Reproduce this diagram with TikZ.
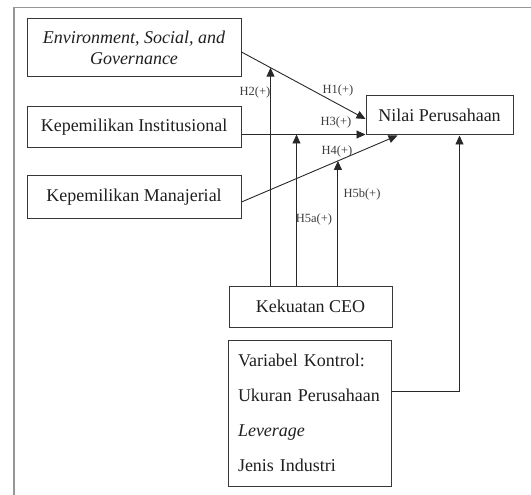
\documentclass[tikz,border=0pt]{standalone}
\usepackage{fontspec}
\setmainfont{Liberation Serif}
\usetikzlibrary{arrows.meta,positioning,calc}
\definecolor{boxgray}{RGB}{55,55,55}
\definecolor{linegray}{RGB}{40,40,40}
\definecolor{framegray}{RGB}{150,150,150}
\definecolor{labgray}{RGB}{60,60,60}

\begin{document}
\begin{tikzpicture}[x=1pt, y=-1pt,
  vbox/.style={rectangle, draw=boxgray, line width=1pt, inner sep=2pt,
               font=\fontsize{18}{21}\selectfont, align=center, text=black!88},
  arr/.style={-{Triangle[length=9pt,width=8pt]}, draw=linegray, line width=0.9pt},
  hlab/.style={font=\fontsize{12.5}{14}\selectfont, text=labgray}
]
\useasboundingbox (0,0) rectangle (531,495);
% Frame
\draw[framegray, line width=1.3pt] (531,7.5) -- (14,7.5) -- (14,495);

% Variable nodes
\node[vbox, minimum width=214pt, minimum height=58pt] (esg) at (134,48)
  {\textit{Environment, Social, and}\\\textit{Governance}};
\node[vbox, minimum width=214pt, minimum height=41pt] (inst) at (134,127.5)
  {Kepemilikan Institusional};
\node[vbox, minimum width=214pt, minimum height=42pt] (mnj) at (134,197)
  {Kepemilikan Manajerial};
\node[vbox, minimum width=147pt, minimum height=39pt] (nilai) at (439.5,115.5)
  {Nilai Perusahaan};
\node[vbox, minimum width=163pt, minimum height=41pt] (ceo) at (310.5,306.5)
  {Kekuatan CEO};
\node[vbox, minimum width=163pt, minimum height=146pt, text width=143pt,
      align=left, font=\fontsize{18}{35}\selectfont] (ktrl) at (309.5,413)
  {Variabel Kontrol:\\Ukuran Perusahaan\\\textit{Leverage}\\Jenis Industri};

% Direct effects
\coordinate (h1s) at ($(esg.east)+(0,4)$);
\coordinate (h1e) at ($(nilai.west)+(0,3.5)$);
\coordinate (h3e) at ($(nilai.south west)+(0,-1)$);
\coordinate (h4s) at ($(mnj.east)+(0,5)$);
\coordinate (h4e) at ($(nilai.south west)+(32,0)$);
\draw[arr] (h1s) -- (h1e);
\draw[arr] (inst.east |- h3e) -- (h3e);
\draw[arr] (h4s) -- (h4e);

% Moderation by CEO power
\coordinate (m2) at ($(h1s)!0.234!(h1e)$);
\coordinate (m5a) at ($(ceo.north west)+(68,0)$);
\coordinate (m5b) at ($(h4s)!0.618!(h4e)$);
\draw[arr] (ceo.north -| m2) -- (m2);
\draw[arr] (m5a) -- (m5a |- h3e);
\draw[arr] (ceo.north -| m5b) -- (m5b);

% Control variables
\coordinate (kt) at ($(ktrl.east)+(0,-22)$);
\draw[arr] (kt) -| ($(nilai.south west)+(94,0)$);

% Labels
\node[hlab] (lh2) at (255,92) {H2(+)};
\node[hlab] (lh1) at (338,90) {H1(+)};
\node[hlab] (lh3) at (336,122) {H3(+)};
\node[hlab] (lh4) at (337,151) {H4(+)};
\node[hlab] (lh5b) at (362,194) {H5b(+)};
\node[hlab] (lh5a) at (314,219) {H5a(+)};
\end{tikzpicture}
\end{document}
